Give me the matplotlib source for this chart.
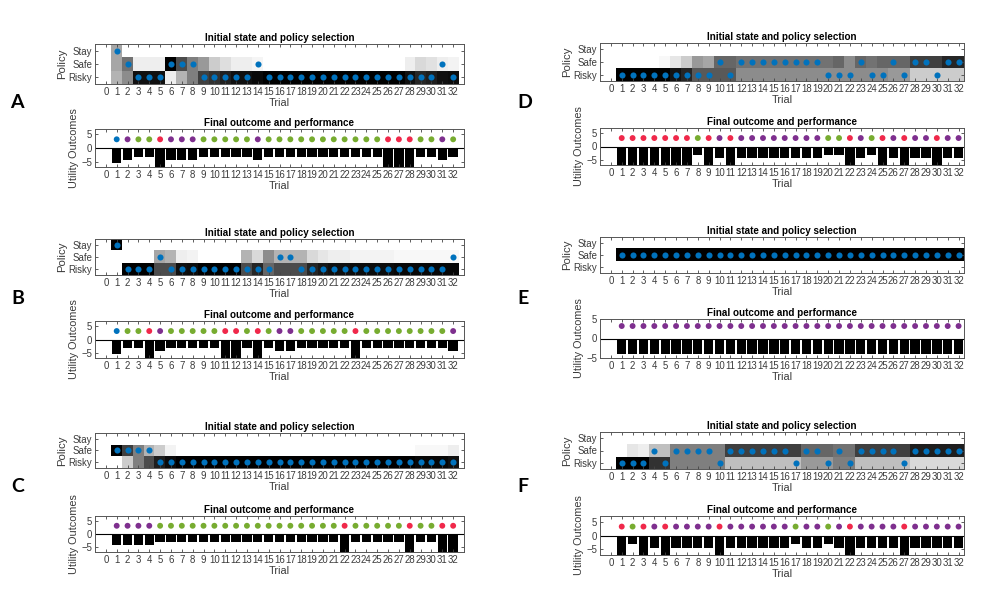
import matplotlib.pyplot as plt
import numpy as np

plt.rcParams['font.family'] = ['Liberation Sans', 'DejaVu Sans']

W, H = 990, 597
trials = np.arange(1, 33)
policy_labels = ['Stay', 'Safe', 'Risky']
outcome_colors = {'B': '#0072BD', 'P': '#7E2F8E', 'G': '#77AC30', 'R': '#F0284A'}
choice_color = '#0072BD'

# posterior over policies per trial (darker = more probable), chosen policy,
# outcome class and utility for each simulated agent
a_stay = [0.35] + [0.0] * 31
a_safe = [0.35, 0.55, 0.07, 0.07, 0.07, 1.0, 0.7, 0.5, 0.4, 0.2, 0.13, 0.07, 0.07, 0.04] + [0.0] * 13 + [0.07, 0.15, 0.12, 0.07, 0.05]
a_risky = [0.3, 0.45, 0.93, 0.93, 0.93, 0.07, 0.3, 0.5, 0.75, 0.8, 0.87, 0.93, 0.93, 0.96] + [1.0] * 13 + [0.93, 0.85, 0.88, 0.93, 0.95]
a_choice = [0, 1, 2, 2, 2, 1, 1, 1, 2, 2, 2, 2, 2, 1] + [2] * 16 + [1, 2]
a_outcome = 'BPGGRPPPGGGGGP' + 'G' * 11 + 'RRRGGPG'
a_utility = [-5.5, -4.4, -3.2, -3.2, -7.5, -4.4, -4.4, -4.4, -3.2, -3.2, -3.2, -3.2, -3.2, -4.4] + [-3.2] * 11 + [-7.5, -7.5, -7.5, -3.2, -3.2, -4.4, -3.2]

b_stay = [1.0] + [0.0] * 31
b_safe = [0.0, 0.0, 0.0, 0.0, 0.35, 0.3, 0.07, 0.05, 0.0, 0.0, 0.0, 0.0, 0.3, 0.15, 0.45, 0.3, 0.3, 0.3, 0.15, 0.1, 0.07, 0.07, 0.05, 0.05, 0.05, 0.05] + [0.03] * 6
b_risky = [0.0, 1.0, 1.0, 1.0, 0.7, 0.7, 0.93, 0.95, 1.0, 1.0, 1.0, 1.0, 0.7, 0.85, 0.6, 0.7, 0.7, 0.7, 0.85, 0.9, 0.93, 0.93, 0.95, 0.95, 0.95, 0.95] + [0.97] * 6
b_choice = [0, 2, 2, 2, 1] + [2] * 10 + [1, 1] + [2] * 14 + [1]
b_outcome = 'BGGRP' + 'GGGGG' + 'RRGRG' + 'PP' + 'GGGGG' + 'R' + 'G' * 8 + 'P'
b_utility = [-5.5, -3.2, -3.2, -7.5, -4.4, -3.2, -3.2, -3.2, -3.2, -3.2, -7.5, -7.5, -3.2, -7.5, -3.2, -4.4, -4.4, -3.2, -3.2, -3.2, -3.2, -3.2, -7.5] + [-3.2] * 8 + [-4.4]

c_stay = [0.0] * 32
c_safe = [1.0, 0.75, 0.5, 0.3, 0.2, 0.05] + [0.0] * 22 + [0.03, 0.03, 0.03, 0.07]
c_risky = [0.0, 0.2, 0.5, 0.7, 0.88, 0.95] + [1.0] * 22 + [0.97, 0.97, 0.97, 0.93]
c_choice = [1] * 4 + [2] * 28
c_outcome = 'PPPP' + 'G' * 17 + 'R' + 'G' * 5 + 'R' + 'GGRR'
c_utility = [-4.4] * 4 + [-3.2] * 17 + [-7.5] + [-3.2] * 5 + [-7.5, -3.2, -3.2, -7.5, -7.5]

d_stay = [0.0] * 32
d_safe = [0.0, 0.0, 0.0, 0.0, 0.03, 0.1, 0.2, 0.4, 0.35, 0.6, 0.6] + [0.55] * 9 + [0.6, 0.45, 0.6, 0.55, 0.6, 0.6, 0.6, 0.75, 0.75, 0.75, 0.85, 0.85]
d_risky = [1.0, 1.0, 1.0, 1.0, 1.0, 0.92, 0.85, 0.65, 0.65, 0.65, 0.65] + [0.45] * 9 + [0.45, 0.45, 0.45, 0.45, 0.45, 0.4, 0.4, 0.2, 0.2, 0.2, 0.2, 0.2]
d_choice = [2] * 9 + [1, 2] + [1] * 8 + [2, 2, 2, 1, 2, 2, 1, 2, 1, 1, 2, 1, 1]
d_outcome = 'R' * 7 + 'GRPR' + 'P' * 8 + 'GGRPGRPRPPRPP'
d_utility = [-7.5] * 7 + [-3.2, -7.5, -4.4, -7.5] + [-4.4] * 8 + [-3.2, -3.2, -7.5, -4.4, -3.2, -7.5, -4.4, -7.5, -4.4, -4.4, -7.5, -4.4, -4.4]

e_stay = [0.0] * 32
e_safe = [1.0] * 32
e_risky = [0.0] * 32
e_choice = [1] * 32
e_outcome = 'P' * 32
e_utility = [-4.0] * 32

f_stay = [0.0] * 32
f_safe = [0.0, 0.1, 0.07, 0.25, 0.25] + [0.5] * 5 + [0.75] * 7 + [0.6] * 3 + [0.55] * 2 + [0.75] * 5 + [0.88] * 5
f_risky = [1.0, 1.0, 1.0, 0.8, 0.8] + [0.5] * 5 + [0.25] * 7 + [0.4] * 3 + [0.5] * 2 + [0.25] * 5 + [0.15] * 5
f_choice = [2, 2, 2, 1, 2, 1, 1, 1, 1, 2] + [1] * 6 + [2, 1, 1, 2, 1, 2, 1, 1, 1, 1, 2] + [1] * 5
f_outcome = 'RGRPRPPPPR' + 'P' * 6 + 'GPPGPRPPPPR' + 'P' * 5
f_utility = [-7.5, -3.2, -7.5, -4.4, -7.5, -4.4, -4.4, -4.4, -4.4, -7.5] + [-4.4] * 6 + [-3.2, -4.4, -4.4, -3.2, -4.4, -7.5, -4.4, -4.4, -4.4, -4.4, -7.5] + [-4.4] * 5

# letter, data, heat box, bar box (pixels: x0, y0, x1, y1), letter pos, xmax, ylim
panels = [
    ('A', (a_stay, a_safe, a_risky), a_choice, a_outcome, a_utility, (95, 44, 464, 84), (95, 129, 464, 167), (17, 103), 33, 7),
    ('B', (b_stay, b_safe, b_risky), b_choice, b_outcome, b_utility, (95, 239, 464, 275), (95, 321, 464, 358), (18, 298), 33, 7),
    ('C', (c_stay, c_safe, c_risky), c_choice, c_outcome, c_utility, (95, 433, 464, 468), (95, 516, 464, 552), (18, 487), 33, 7),
    ('D', (d_stay, d_safe, d_risky), d_choice, d_outcome, d_utility, (600, 43, 964, 81), (600, 128, 964, 165), (525, 103), 32.5, 7),
    ('E', (e_stay, e_safe, e_risky), e_choice, e_outcome, e_utility, (600, 237, 964, 273), (600, 319, 964, 358), (523, 298), 32.5, 5),
    ('F', (f_stay, f_safe, f_risky), f_choice, f_outcome, f_utility, (600, 432, 964, 469), (600, 516, 964, 555), (523, 487), 32.5, 7),
]


def px_box(x0, y0, x1, y1):
    return [x0 / W, 1 - y1 / H, (x1 - x0) / W, (y1 - y0) / H]


def style(ax, xmax):
    ax.set_xlim(-1, xmax)
    ax.set_xticks(range(0, 33))
    ax.tick_params(direction='in', top=True, right=True, length=2.5, width=0.6,
                   labelsize=6.9, labelcolor='#3a3a3a', color='#444444', pad=2)
    for s in ax.spines.values():
        s.set_color('#555555')
        s.set_linewidth(0.7)
    ax.set_xlabel('Trial', fontsize=7.8, color='#3a3a3a', labelpad=1)


fig = plt.figure(figsize=(W / 100, H / 100), dpi=100)

for letter, probs, choice, outcome, utility, hbox, bbox, lpos, xmax, ylim in panels:
    # policy posterior
    ax = fig.add_axes(px_box(*hbox))
    ax.imshow(np.array(probs), cmap='gray_r', vmin=0, vmax=1, aspect='auto',
              interpolation='nearest', extent=(0.5, 32.5, 3.5, 0.5))
    ax.plot(trials, np.array(choice) + 1, 'o', ms=4.4, color=choice_color, mec='none')
    ax.set_ylim(3.5, 0.5)
    ax.set_yticks([1, 2, 3])
    ax.set_yticklabels(policy_labels)
    style(ax, xmax)
    ax.set_ylabel('Policy', fontsize=8.2, color='#3a3a3a', labelpad=1)
    ax.set_title('Initial state and policy selection', fontsize=7.1, fontweight='bold', pad=2.5)

    # outcomes
    ax2 = fig.add_axes(px_box(*bbox))
    ax2.bar(trials, utility, width=0.86, color='black')
    ax2.axhline(0, color='black', lw=0.8)
    ax2.scatter(trials, [3.2] * 32, s=18, c=[outcome_colors[o] for o in outcome], edgecolors='none', zorder=3)
    ax2.set_ylim(-ylim, ylim)
    ax2.set_yticks([-5, 0, 5])
    style(ax2, xmax)
    ax2.set_ylabel('Utility Outcomes', fontsize=7.8, color='#3a3a3a', labelpad=2)
    ax2.set_title('Final outcome and performance', fontsize=7.1, fontweight='bold', pad=2.5)

    fig.text(lpos[0] / W, 1 - lpos[1] / H, letter, fontsize=14, fontweight='bold',
             family=['Lato', 'DejaVu Sans'], ha='center', va='center')

fig.savefig('out.png', dpi=100)
